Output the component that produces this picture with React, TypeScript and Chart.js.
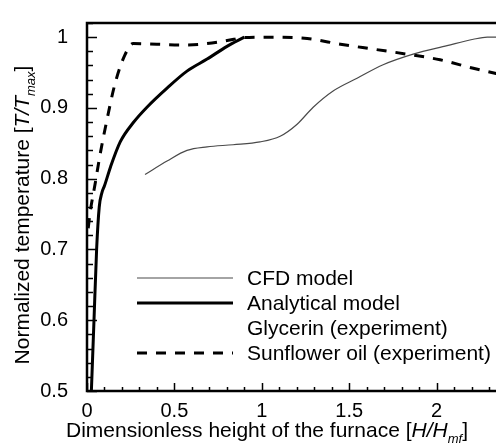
import React, { useEffect, useRef } from 'react';
import { Chart, registerables } from 'chart.js';

Chart.register(...registerables);

// ---- data ----
const cfdX = [0.332, 0.458, 0.572, 0.687, 0.836, 0.99, 1.105, 1.202, 1.294, 1.408, 1.545, 1.694, 1.866, 2.06, 2.21, 2.29, 2.34];
const cfdY = [0.806, 0.825, 0.84, 0.845, 0.848, 0.852, 0.86, 0.877, 0.901, 0.924, 0.942, 0.961, 0.976, 0.988, 0.997, 1.0, 1.0];

const analyticalX = [0.025, 0.04, 0.055, 0.07, 0.085, 0.1, 0.135, 0.19, 0.264, 0.343, 0.458, 0.572, 0.687, 0.801, 0.9];
const analyticalY = [0.5, 0.6, 0.7, 0.76, 0.78, 0.79, 0.817, 0.852, 0.879, 0.901, 0.928, 0.952, 0.969, 0.987, 1.0];

const glycerinX: number[] = [];
const glycerinY: number[] = [];

const sunflowerX = [0.007, 0.017, 0.046, 0.074, 0.114, 0.16, 0.217, 0.264, 0.4, 0.55, 0.65, 0.84, 0.876, 1.065, 1.26, 1.45, 1.64, 1.83, 2.02, 2.21, 2.5];
const sunflowerY = [0.73, 0.751, 0.792, 0.833, 0.883, 0.934, 0.975, 0.991, 0.99, 0.989, 0.99, 0.997, 0.999, 1.0, 0.998, 0.99, 0.983, 0.976, 0.968, 0.956, 0.94];

const seriesLabels = ['CFD model', 'Analytical model', 'Glycerin (experiment)', 'Sunflower oil (experiment)'];

const xTickValues = [0, 0.5, 1, 1.5, 2, 2.5];
const xTickLabels = ['0', '0.5', '1', '1.5', '2', '2.5'];
const yTickValues = [0.5, 0.6, 0.7, 0.8, 0.9, 1];
const yTickLabels = ['0.5', '0.6', '0.7', '0.8', '0.9', '1'];

const xMin = 0;
const xMax = 2.5;
const xMinorStep = 0.1;
const yMin = 0.5;
const yMax = 1.02;
const yMinorStep = 0.02;

const FONT = '"Liberation Sans", Arial, Helvetica, sans-serif';

type Part = { text: string; italic?: boolean; sub?: boolean };
const xTitle: Part[] = [
  { text: 'Dimensionless height of the furnace [' },
  { text: 'H/H', italic: true },
  { text: 'mf', italic: true, sub: true },
  { text: ']' },
];
const yTitle: Part[] = [
  { text: 'Normalized temperature [' },
  { text: 'T/T', italic: true },
  { text: 'max', italic: true, sub: true },
  { text: ']' },
];

function zip(xs: number[], ys: number[]) {
  return xs.map((x, i) => ({ x, y: ys[i] }));
}

function partFont(p: Part, size: number) {
  const s = p.sub ? Math.round(size * 0.6) : size;
  return `${p.italic ? 'italic ' : ''}${s}px ${FONT}`;
}

function drawParts(ctx: CanvasRenderingContext2D, parts: Part[], cx: number, baseY: number, size: number) {
  let total = 0;
  for (const p of parts) {
    ctx.font = partFont(p, size);
    total += ctx.measureText(p.text).width;
  }
  let x = cx - total / 2;
  ctx.textAlign = 'left';
  ctx.textBaseline = 'alphabetic';
  for (const p of parts) {
    ctx.font = partFont(p, size);
    ctx.fillText(p.text, x, baseY + (p.sub ? size * 0.28 : 0));
    x += ctx.measureText(p.text).width;
  }
}

function isMajor(v: number, list: number[]) {
  return list.some((t) => Math.abs(t - v) < 1e-6);
}

function labelFor(v: number, values: number[], labels: string[]) {
  const i = values.findIndex((t) => Math.abs(t - v) < 1e-6);
  return i >= 0 ? labels[i] : '';
}

const decorPlugin = {
  id: 'decor',
  afterDatasetsDraw(chart: any) {
    const { ctx, chartArea, scales } = chart;
    const { left, top, right, bottom } = chartArea;
    const xs = scales.x;
    const ys = scales.y;
    ctx.save();
    ctx.strokeStyle = '#000';
    // tick marks (inside, bottom and left only)
    ctx.lineWidth = 1.5;
    ctx.beginPath();
    const nx = Math.round((xMax - xMin) / xMinorStep);
    for (let i = 0; i <= nx; i++) {
      const v = xMin + i * xMinorStep;
      const px = Math.round(xs.getPixelForValue(v)) + 0.5;
      const len = isMajor(v, xTickValues) ? 8 : 4;
      ctx.moveTo(px, bottom);
      ctx.lineTo(px, bottom - len);
    }
    const ny = Math.round((yMax - yMin) / yMinorStep);
    for (let i = 0; i <= ny; i++) {
      const v = yMin + i * yMinorStep;
      const py = Math.round(ys.getPixelForValue(v)) + 0.5;
      const len = isMajor(v, yTickValues) ? 10 : 6;
      ctx.moveTo(left, py);
      ctx.lineTo(left + len, py);
    }
    ctx.stroke();
    // frame
    ctx.lineWidth = 2.5;
    ctx.strokeRect(left, top, right - left, bottom - top);

    // legend
    const rowY0 = 278;
    const rowGap = 25;
    const lx1 = left + 50;
    const lx2 = left + 146;
    const tx = left + 160;
    chart.data.datasets.forEach((ds: any, i: number) => {
      const y = rowY0 + i * rowGap;
      if (ds.showInLegendLine !== false) {
        ctx.save();
        ctx.strokeStyle = ds.borderColor;
        ctx.lineWidth = ds.borderWidth;
        ctx.setLineDash(ds.borderDash || []);
        ctx.beginPath();
        ctx.moveTo(lx1, y);
        ctx.lineTo(lx2, y);
        ctx.stroke();
        ctx.restore();
      }
      ctx.fillStyle = '#000';
      ctx.font = `21px ${FONT}`;
      ctx.textAlign = 'left';
      ctx.textBaseline = 'middle';
      ctx.fillText(ds.label, tx, y + 1);
    });

    // axis titles
    ctx.fillStyle = '#000';
    drawParts(ctx, xTitle, 267, 437, 21);
    ctx.save();
    ctx.translate(29, 215);
    ctx.rotate(-Math.PI / 2);
    drawParts(ctx, yTitle, 0, 0, 21);
    ctx.restore();
    ctx.restore();
  },
};

export default function App() {
  const ref = useRef<HTMLCanvasElement | null>(null);
  useEffect(() => {
    if (!ref.current) return;
    const chart = new Chart(ref.current, {
      type: 'line',
      data: {
        datasets: [
          {
            label: seriesLabels[0],
            data: zip(cfdX, cfdY),
            borderColor: '#4a4a4a',
            borderWidth: 1.2,
            pointRadius: 0,
            cubicInterpolationMode: 'monotone',
          },
          {
            label: seriesLabels[1],
            data: zip(analyticalX, analyticalY),
            borderColor: '#000',
            borderWidth: 3,
            pointRadius: 0,
            cubicInterpolationMode: 'monotone',
          },
          {
            label: seriesLabels[2],
            data: zip(glycerinX, glycerinY),
            borderColor: '#000',
            borderWidth: 0,
            pointRadius: 0,
            showLine: false,
            showInLegendLine: false,
          } as any,
          {
            label: seriesLabels[3],
            data: zip(sunflowerX, sunflowerY),
            borderColor: '#000',
            borderWidth: 3,
            borderDash: [10, 9],
            pointRadius: 0,
            cubicInterpolationMode: 'monotone',
          },
        ],
      },
      options: {
        animation: false,
        responsive: false,
        events: [],
        layout: { padding: { top: 10, right: 16, left: 0, bottom: 0 } },
        plugins: { legend: { display: false }, tooltip: { enabled: false } },
        scales: {
          x: {
            type: 'linear',
            min: xMin,
            max: xMax,
            grid: { display: false },
            border: { display: false },
            afterBuildTicks: (s: any) => {
              s.ticks = xTickValues.map((v) => ({ value: v }));
            },
            ticks: {
              color: '#000',
              font: { family: FONT, size: 20 },
              padding: 0,
              maxRotation: 0,
              autoSkip: false,
              callback: (v: any) => labelFor(Number(v), xTickValues, xTickLabels),
            },
            afterFit: (s: any) => {
              s.height = 54;
            },
          },
          y: {
            type: 'linear',
            min: yMin,
            max: yMax,
            grid: { display: false },
            border: { display: false },
            afterBuildTicks: (s: any) => {
              s.ticks = yTickValues.map((v) => ({ value: v }));
            },
            ticks: {
              color: '#000',
              font: { family: FONT, size: 20 },
              padding: 11,
              autoSkip: false,
              callback: (v: any) => labelFor(Number(v), yTickValues, yTickLabels),
            },
            afterFit: (s: any) => {
              s.width = 87;
            },
          },
        },
      },
      plugins: [decorPlugin],
    } as any);
    return () => chart.destroy();
  }, []);
  return (
    <div style={{ position: 'fixed', left: 0, top: 0, width: 496, height: 445, overflow: 'hidden', background: '#fff' }}>
      <canvas ref={ref} width={540} height={445} style={{ display: 'block' }} />
    </div>
  );
}
